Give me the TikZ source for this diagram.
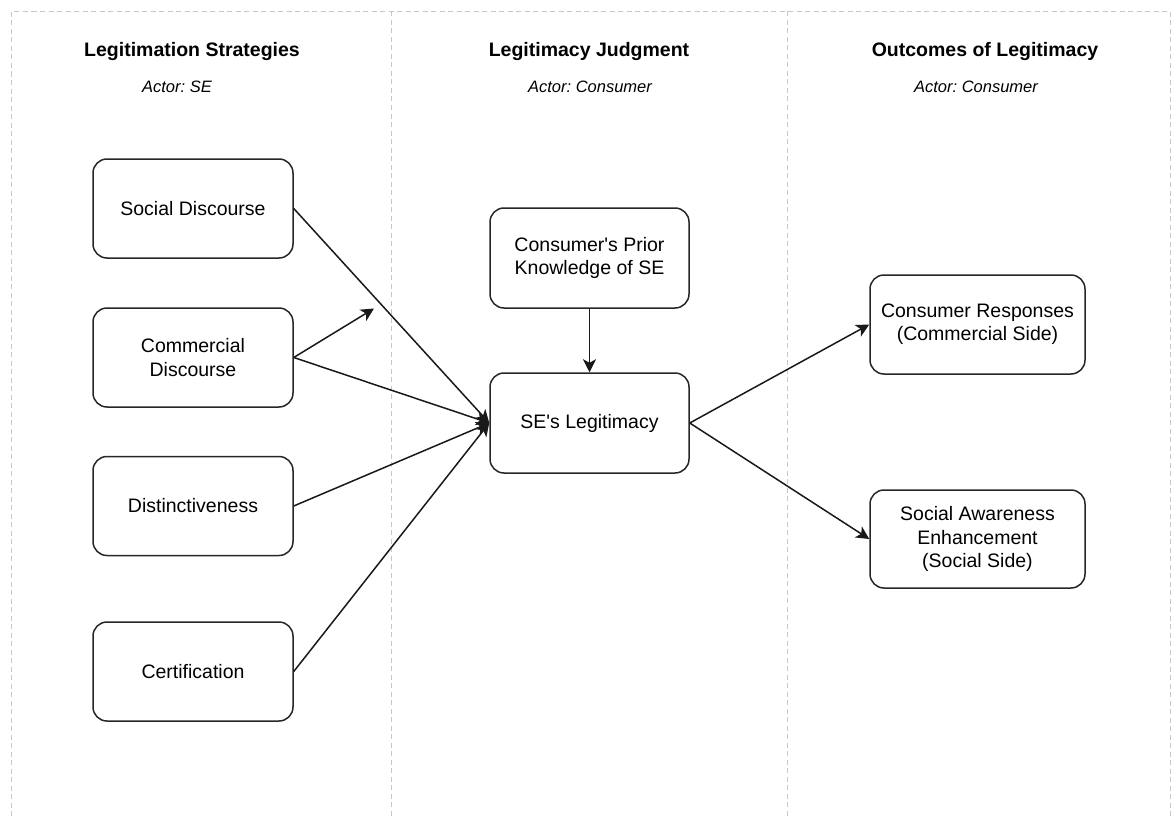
\documentclass[tikz,border=0pt]{standalone}
\usepackage{fontspec}
\setmainfont{Liberation Sans}
\usetikzlibrary{arrows.meta}
\frenchspacing
\begin{document}
\begin{tikzpicture}[x=1pt,y=-1pt,
  box/.style={draw=black!85, line width=1.5pt, rounded corners=14pt, align=center,
    font=\fontsize{19.5}{23.4}\selectfont, inner sep=0pt},
  conn/.style={draw=black!90, line width=1.5pt, -{Stealth[length=13pt,width=13pt,inset=3.5pt]}},
  sep/.style={draw=black!22, line width=1pt, dash pattern=on 5pt off 3.5pt},
  head/.style={font=\fontsize{19.5}{23.4}\selectfont\bfseries, inner sep=0pt},
  actor/.style={font=\fontsize{16.5}{20}\selectfont\itshape, inner sep=0pt}]
\useasboundingbox (0,0) rectangle (1176,816);
% frame and dividers
\draw[sep] (11.5,816) -- (11.5,11.5) -- (1170,11.5) -- (1170,816);
\draw[sep] (391.5,11.5) -- (391.5,816);
\draw[sep] (787.5,11.5) -- (787.5,816);
% headers
\node[head] (h1) at (192,52) {Legitimation Strategies};
\node[actor] (a1) at (177,87) {Actor: SE};
\node[head] (h2) at (589,52) {Legitimacy Judgment};
\node[actor] (a2) at (590,87) {Actor: Consumer};
\node[head] (h3) at (985,52) {Outcomes of Legitimacy};
\node[actor] (a3) at (976,87) {Actor: Consumer};
% left column
\node[box, minimum width=200pt, minimum height=99pt] (sd) at (193,208.5) {Social Discourse};
\node[box, minimum width=200pt, minimum height=99pt] (cd) at (193,357.5) {Commercial\\Discourse};
\node[box, minimum width=200pt, minimum height=99pt] (di) at (193,506) {Distinctiveness};
\node[box, minimum width=200pt, minimum height=99pt] (ce) at (193,671.5) {Certification};
% middle column
\node[box, minimum width=199pt, minimum height=100pt] (pk) at (589.5,258) {Consumer\textquotesingle s Prior\\Knowledge of SE};
\node[box, minimum width=199pt, minimum height=100pt] (le) at (589.5,423) {SE\textquotesingle s Legitimacy};
% right column
\node[box, minimum width=215pt, minimum height=99pt] (cr) at (977.5,324.5) {Consumer Responses\\(Commercial Side)};
\node[box, minimum width=215pt, minimum height=98pt] (sa) at (977.5,539) {Social Awareness\\Enhancement\\(Social Side)};
\coordinate (free) at (374,308.5);
% connectors
\draw[conn] (sd.east) -- (le.west);
\draw[conn] (cd.east) -- (le.west);
\draw[conn] (cd.east) -- (free);
\draw[conn] (di.east) -- (le.west);
\draw[conn] (ce.east) -- (le.west);
\draw[conn] (pk.south) -- (le.north);
\draw[conn] (le.east) -- (cr.west);
\draw[conn] (le.east) -- (sa.west);
\end{tikzpicture}
\end{document}
